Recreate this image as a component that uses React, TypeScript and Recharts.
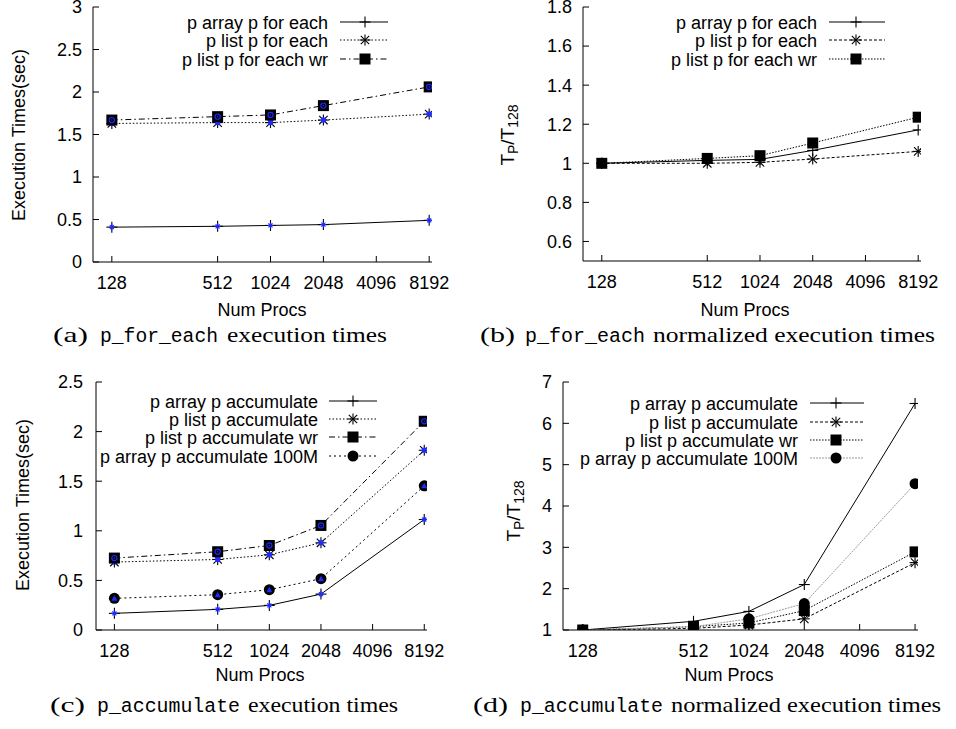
import React from 'react';
import { LineChart, Line, XAxis, YAxis, Legend } from 'recharts';

// ---------------- data ----------------
const procs = [128, 512, 1024, 2048, 8192];
const xTicks = [128, 512, 1024, 2048, 4096, 8192];

const forEachArray = [0.41, 0.42, 0.43, 0.44, 0.49];
const forEachList = [1.63, 1.64, 1.64, 1.67, 1.74];
const forEachListWr = [1.67, 1.71, 1.73, 1.84, 2.06];

const forEachArrayNorm = [1.0, 1.015, 1.02, 1.066, 1.171];
const forEachListNorm = [1.0, 1.0, 1.005, 1.022, 1.061];
const forEachListWrNorm = [1.0, 1.025, 1.039, 1.104, 1.236];

const accArray = [0.168, 0.208, 0.248, 0.362, 1.114];
const accList = [0.685, 0.711, 0.758, 0.879, 1.812];
const accListWr = [0.725, 0.789, 0.852, 1.054, 2.104];
const accArray100M = [0.319, 0.356, 0.406, 0.517, 1.453];

const accArrayNorm = [1, 1.21, 1.45, 2.1, 6.48];
const accListNorm = [1, 1.04, 1.12, 1.27, 2.63];
const accListWrNorm = [1, 1.08, 1.17, 1.47, 2.89];
const accArray100MNorm = [1, 1.08, 1.27, 1.64, 4.54];

const yTicksA = [0, 0.5, 1, 1.5, 2, 2.5, 3];
const yTicksB = [0.6, 0.8, 1, 1.2, 1.4, 1.6, 1.8];
const yTicksC = [0, 0.5, 1, 1.5, 2, 2.5];
const yTicksD = [1, 2, 3, 4, 5, 6, 7];

const namesForEach = ['p array p for each', 'p list p for each', 'p list p for each wr'];
const namesAcc = [
  'p array p accumulate',
  'p list p accumulate',
  'p list p accumulate wr',
  'p array p accumulate 100M',
];

// ---------------- styling ----------------
const FONT = '"Liberation Sans", Arial, Helvetica, sans-serif';
const FS = 18;
const BLUE = '#1f2bff';

type MarkerType = 'plus' | 'star' | 'square' | 'circle';
type BlueType = 'bstar' | 'bsquare' | 'bring' | 'btri' | null;

interface Series {
  key: string;
  name: string;
  values: number[];
  dash?: string;
  stroke?: string;
  marker: MarkerType;
  blue: BlueType;
}

function drawMarker(type: MarkerType, x: number, y: number) {
  const s = 5.5;
  switch (type) {
    case 'plus':
      return (
        <g stroke="#000" strokeWidth={1.1}>
          <line x1={x - s} y1={y} x2={x + s} y2={y} />
          <line x1={x} y1={y - s} x2={x} y2={y + s} />
        </g>
      );
    case 'star': {
      const d = 4.2;
      return (
        <g stroke="#000" strokeWidth={1.1}>
          <line x1={x - s} y1={y} x2={x + s} y2={y} />
          <line x1={x} y1={y - s} x2={x} y2={y + s} />
          <line x1={x - d} y1={y - d} x2={x + d} y2={y + d} />
          <line x1={x - d} y1={y + d} x2={x + d} y2={y - d} />
        </g>
      );
    }
    case 'square':
      return <rect x={x - 5.5} y={y - 5.5} width={11} height={11} fill="#000" />;
    case 'circle':
      return <circle cx={x} cy={y} r={5.5} fill="#000" />;
  }
  return null;
}

function drawBlue(type: BlueType, x: number, y: number) {
  if (!type) return null;
  switch (type) {
    case 'bstar': {
      const s = 2.8;
      const d = 2;
      return (
        <g stroke={BLUE} strokeWidth={1.2}>
          <line x1={x - s} y1={y} x2={x + s} y2={y} />
          <line x1={x} y1={y - s} x2={x} y2={y + s} />
          <line x1={x - d} y1={y - d} x2={x + d} y2={y + d} />
          <line x1={x - d} y1={y + d} x2={x + d} y2={y - d} />
        </g>
      );
    }
    case 'bsquare':
      return <rect x={x - 2.5} y={y - 2.5} width={5} height={5} fill={BLUE} />;
    case 'bring':
      return (
        <g>
          <circle cx={x} cy={y} r={2.6} fill="none" stroke={BLUE} strokeWidth={1.1} />
          <circle cx={x} cy={y} r={0.8} fill={BLUE} />
        </g>
      );
    case 'btri':
      return <polygon points={`${x},${y - 3} ${x - 3},${y + 2.5} ${x + 3},${y + 2.5}`} fill={BLUE} />;
  }
  return null;
}

interface PanelCfg {
  id: string;
  w: number;
  h: number;
  margin: { top: number; right: number; bottom: number; left: number };
  yDomain: [number, number];
  yTicks: number[];
  yTickMargin: number;
  series: Series[];
  legend: { textX: number; lx1: number; lx2: number; mx: number; rows: number[] };
  xLabel: { x: number; y: number };
  yLabel: { x: number; y: number; norm: boolean };
}

function LegendBox({ cfg }: { cfg: PanelCfg }) {
  const L = cfg.legend;
  return (
    <svg width={cfg.w} height={130} style={{ overflow: 'visible', display: 'block' }}>
      {cfg.series.map((s, i) => {
        const y = L.rows[i];
        return (
          <g key={s.key}>
            <text
              x={L.textX}
              y={y + 6.5}
              textAnchor="end"
              fontFamily={FONT}
              fontSize={FS}
              fill="#000"
            >
              {s.name}
            </text>
            <line
              x1={L.lx1}
              y1={y}
              x2={L.lx2}
              y2={y}
              stroke={s.stroke || '#000'}
              strokeWidth={1}
              strokeDasharray={s.dash}
            />
            {drawMarker(s.marker, L.mx, y)}
          </g>
        );
      })}
    </svg>
  );
}

function Panel({ cfg }: { cfg: PanelCfg }) {
  const rows = procs.map((p, i) => {
    const r: Record<string, number> = { p };
    cfg.series.forEach((s) => {
      r[s.key] = s.values[i];
    });
    return r;
  });
  const tickStyle = { fill: '#000', fontSize: FS, fontFamily: FONT };
  return (
    <LineChart width={cfg.w} height={cfg.h} data={rows} margin={cfg.margin}>
      <XAxis
        dataKey="p"
        type="number"
        scale="log"
        domain={[100, 8500]}
        ticks={xTicks}
        allowDataOverflow
        interval={0}
        tickSize={-6}
        tickMargin={20}
        height={40}
        stroke="#000"
        tick={tickStyle}
        label={{
          content: () => (
            <text
              x={cfg.xLabel.x}
              y={cfg.xLabel.y}
              textAnchor="middle"
              fontFamily={FONT}
              fontSize={FS}
              fill="#000"
            >
              Num Procs
            </text>
          ),
        }}
      />
      <XAxis
        xAxisId="top"
        orientation="top"
        dataKey="p"
        type="number"
        scale="log"
        domain={[100, 8500]}
        ticks={xTicks}
        allowDataOverflow
        interval={0}
        tickSize={-6}
        height={0}
        stroke="#000"
        tick={false}
      />
      <YAxis
        type="number"
        domain={cfg.yDomain}
        ticks={cfg.yTicks}
        allowDataOverflow
        interval={0}
        tickSize={-6}
        tickMargin={cfg.yTickMargin}
        width={60}
        stroke="#000"
        tick={tickStyle}
        tickFormatter={(v: number) => String(v)}
        label={{
          content: () =>
            cfg.yLabel.norm ? (
              <text
                x={cfg.yLabel.x}
                y={cfg.yLabel.y}
                transform={`rotate(-90, ${cfg.yLabel.x}, ${cfg.yLabel.y})`}
                textAnchor="middle"
                fontFamily={FONT}
                fontSize={19}
                fill="#000"
              >
                T
                <tspan fontSize={14} dy={4}>
                  P
                </tspan>
                <tspan dy={-4}>/T</tspan>
                <tspan fontSize={14} dy={4}>
                  128
                </tspan>
              </text>
            ) : (
              <text
                x={cfg.yLabel.x}
                y={cfg.yLabel.y}
                transform={`rotate(-90, ${cfg.yLabel.x}, ${cfg.yLabel.y})`}
                textAnchor="middle"
                fontFamily={FONT}
                fontSize={FS}
                fill="#000"
              >
                Execution Times(sec)
              </text>
            ),
        }}
      />
      <YAxis
        yAxisId="r"
        orientation="right"
        type="number"
        domain={cfg.yDomain}
        ticks={cfg.yTicks}
        allowDataOverflow
        interval={0}
        tickSize={-6}
        width={0}
        stroke="#000"
        tick={false}
      />
      <Legend
        verticalAlign="middle"
        layout="horizontal"
        wrapperStyle={{ position: 'absolute', left: 0, top: 0, width: cfg.w, height: 130 }}
        content={() => <LegendBox cfg={cfg} />}
      />
      {cfg.series.map((s) => (
        <Line
          key={s.key}
          dataKey={s.key}
          name={s.name}
          type="linear"
          stroke={s.stroke || '#000'}
          strokeWidth={1}
          strokeDasharray={s.dash}
          isAnimationActive={false}
          dot={(props: any) => (
            <g key={`${s.key}-${props.index}`}>
              {drawMarker(s.marker, props.cx, props.cy)}
              {drawBlue(s.blue, props.cx, props.cy)}
            </g>
          )}
          activeDot={false}
        />
      ))}
    </LineChart>
  );
}

const panelA: PanelCfg = {
  id: 'a',
  w: 478,
  h: 360,
  margin: { top: 7, right: 46, left: 33, bottom: 58 },
  yDomain: [0, 3],
  yTicks: yTicksA,
  yTickMargin: 17,
  series: [
    { key: 's1', name: namesForEach[0], values: forEachArray, marker: 'plus', blue: 'bstar' },
    { key: 's2', name: namesForEach[1], values: forEachList, dash: '1.5 2', marker: 'star', blue: 'bsquare' },
    { key: 's3', name: namesForEach[2], values: forEachListWr, dash: '6 3 1.5 3', marker: 'square', blue: 'bring' },
  ],
  legend: { textX: 328, lx1: 340, lx2: 388, mx: 365, rows: [22, 40, 59] },
  xLabel: { x: 262, y: 315.5 },
  yLabel: { x: 25, y: 135, norm: false },
};

const panelB: PanelCfg = {
  id: 'b',
  w: 478,
  h: 360,
  margin: { top: 7, right: 35, left: 45, bottom: 59 },
  yDomain: [0.5, 1.8],
  yTicks: yTicksB,
  yTickMargin: 17,
  series: [
    { key: 's1', name: namesForEach[0], values: forEachArrayNorm, marker: 'plus', blue: null },
    { key: 's2', name: namesForEach[1], values: forEachListNorm, dash: '3 2', marker: 'star', blue: null },
    { key: 's3', name: namesForEach[2], values: forEachListWrNorm, dash: '1.5 1.5', marker: 'square', blue: null },
  ],
  legend: { textX: 339, lx1: 351, lx2: 407, mx: 378, rows: [22, 40, 59] },
  xLabel: { x: 267, y: 315.5 },
  yLabel: { x: 36, y: 135, norm: true },
};

const panelC: PanelCfg = {
  id: 'c',
  w: 478,
  h: 369,
  margin: { top: 22, right: 51, left: 36, bottom: 59 },
  yDomain: [0, 2.5],
  yTicks: yTicksC,
  yTickMargin: 19,
  series: [
    { key: 's1', name: namesAcc[0], values: accArray, marker: 'plus', blue: 'bstar' },
    { key: 's2', name: namesAcc[1], values: accList, dash: '1.5 2', marker: 'star', blue: 'bsquare' },
    { key: 's3', name: namesAcc[2], values: accListWr, dash: '6 3 1.5 3', marker: 'square', blue: 'bring' },
    { key: 's4', name: namesAcc[3], values: accArray100M, dash: '2 3', marker: 'circle', blue: 'btri' },
  ],
  legend: { textX: 318, lx1: 329, lx2: 377, mx: 353, rows: [41, 59, 77, 96] },
  xLabel: { x: 260, y: 320.5 },
  yLabel: { x: 29, y: 145, norm: false },
};

const panelD: PanelCfg = {
  id: 'd',
  w: 478,
  h: 369,
  margin: { top: 22, right: 38, left: 25, bottom: 59 },
  yDomain: [1, 7],
  yTicks: yTicksD,
  yTickMargin: 17,
  series: [
    { key: 's1', name: namesAcc[0], values: accArrayNorm, marker: 'plus', blue: null },
    { key: 's2', name: namesAcc[1], values: accListNorm, dash: '3 2', marker: 'star', blue: null },
    { key: 's3', name: namesAcc[2], values: accListWrNorm, dash: '1.5 1.5', marker: 'square', blue: null },
    { key: 's4', name: namesAcc[3], values: accArray100MNorm, dash: '2 1', stroke: '#9a9a9a', marker: 'circle', blue: null },
  ],
  legend: { textX: 320, lx1: 332, lx2: 386, mx: 358, rows: [43, 62, 80, 98] },
  xLabel: { x: 251, y: 320.5 },
  yLabel: { x: 42, y: 151, norm: true },
};

// ---------------- captions ----------------
const SERIF = '"Liberation Serif", "Times New Roman", serif';
const MONO = '"Liberation Mono", "DejaVu Sans Mono", monospace';

interface CapCfg {
  y: number;
  parts: { text: string; x1: number; x2: number; mono: boolean }[];
}

const captions: CapCfg[] = [
  {
    y: 342,
    parts: [
      { text: '(a)', x1: 53, x2: 88, mono: false },
      { text: 'p_for_each', x1: 100, x2: 218, mono: true },
      { text: 'execution times', x1: 227, x2: 387, mono: false },
    ],
  },
  {
    y: 342,
    parts: [
      { text: '(b)', x1: 480, x2: 515, mono: false },
      { text: 'p_for_each', x1: 525, x2: 645, mono: true },
      { text: 'normalized execution times', x1: 653, x2: 935, mono: false },
    ],
  },
  {
    y: 712,
    parts: [
      { text: '(c)', x1: 50, x2: 85, mono: false },
      { text: 'p_accumulate', x1: 97, x2: 240, mono: true },
      { text: 'execution times', x1: 248, x2: 398, mono: false },
    ],
  },
  {
    y: 712,
    parts: [
      { text: '(d)', x1: 473, x2: 508, mono: false },
      { text: 'p_accumulate', x1: 520, x2: 663, mono: true },
      { text: 'normalized execution times', x1: 671, x2: 941, mono: false },
    ],
  },
];

export default function App() {
  return (
    <div
      style={{
        position: 'absolute',
        left: 0,
        top: 0,
        width: 956,
        height: 729,
        background: '#fff',
        overflow: 'hidden',
      }}
    >
      <div style={{ position: 'absolute', left: 0, top: 0 }}>
        <Panel cfg={panelA} />
      </div>
      <div style={{ position: 'absolute', left: 478, top: 0 }}>
        <Panel cfg={panelB} />
      </div>
      <div style={{ position: 'absolute', left: 0, top: 360 }}>
        <Panel cfg={panelC} />
      </div>
      <div style={{ position: 'absolute', left: 478, top: 360 }}>
        <Panel cfg={panelD} />
      </div>
      <svg
        width={956}
        height={729}
        style={{ position: 'absolute', left: 0, top: 0, pointerEvents: 'none' }}
      >
        {captions.map((c, ci) =>
          c.parts.map((p, pi) => (
            <text
              key={`${ci}-${pi}`}
              x={p.x1}
              y={c.y}
              textLength={p.x2 - p.x1}
              lengthAdjust="spacingAndGlyphs"
              fontFamily={p.mono ? MONO : SERIF}
              fontSize={p.mono ? 19.5 : 22}
              fill="#000"
            >
              {p.text}
            </text>
          ))
        )}
      </svg>
    </div>
  );
}
